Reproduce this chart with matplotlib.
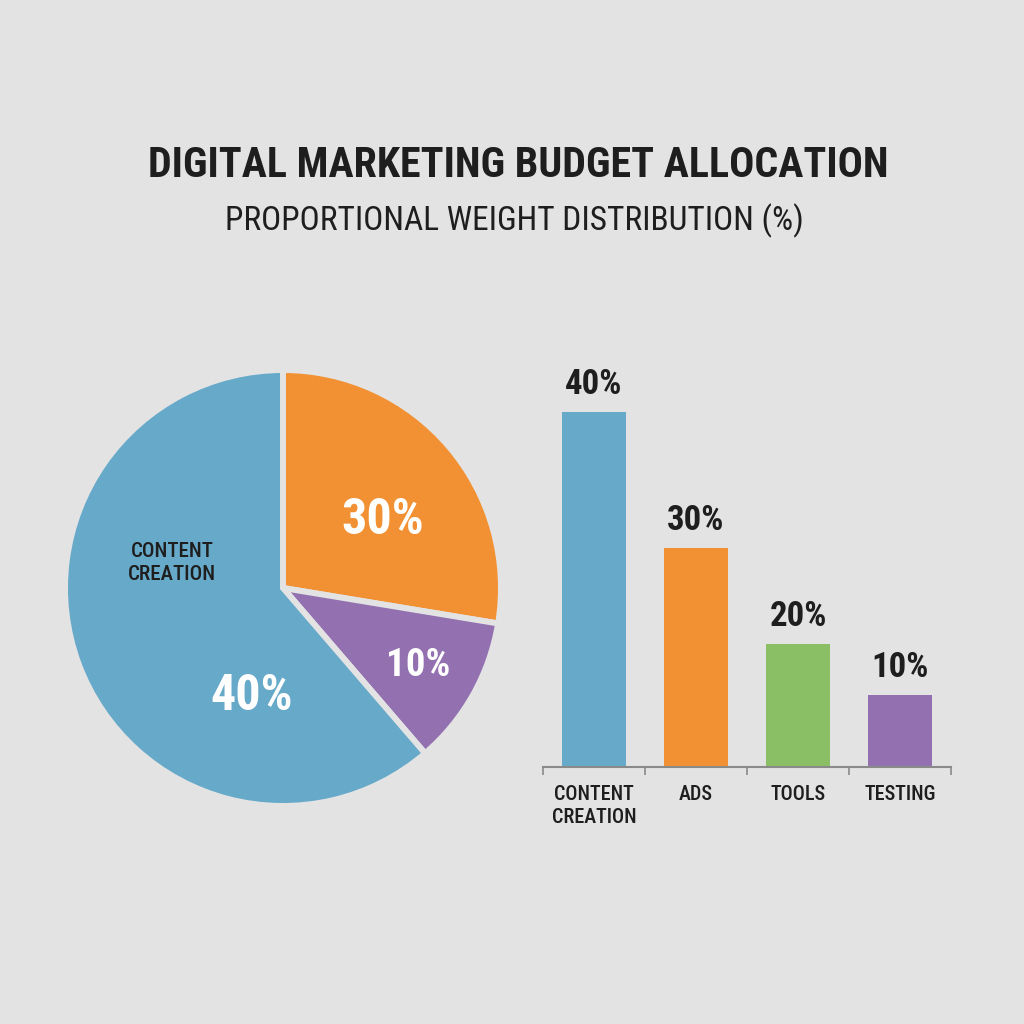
import matplotlib.pyplot as plt

# data
categories = ["CONTENT\nCREATION", "ADS", "TOOLS", "TESTING"]
bar_labels = ["40%", "30%", "20%", "10%"]
bar_heights = [40, 24.7, 13.9, 8.1]   # drawn heights as they appear

pie_shares = [27.6, 11.1, 61.3]       # orange, purple, blue (as drawn)
pie_labels = ["30%", "10%", "40%"]

blue = "#67a9c9"
orange = "#f29133"
green = "#8bbf66"
purple = "#9371b1"
bar_colors = [blue, orange, green, purple]
pie_colors = [orange, purple, blue]
bg = "#e3e3e3"
dark = "#1e1e1e"

plt.rcParams["font.family"] = ["DejaVu Sans Condensed", "Roboto Condensed",
                               "Liberation Sans Narrow", "Roboto", "DejaVu Sans"]

fig = plt.figure(figsize=(10.24, 10.24), dpi=100)
fig.patch.set_facecolor(bg)

def fit(t, width_px):
    # shrink a text until it spans the width seen in the reference
    r = fig.canvas.get_renderer()
    w = t.get_window_extent(r).width
    t.set_fontsize(t.get_fontsize() * width_px / w)

title = fig.text(0.506, 0.838, "DIGITAL MARKETING BUDGET ALLOCATION", ha="center", va="center",
                 fontsize=37, fontweight="bold", color=dark)
sub = fig.text(0.502, 0.784, "PROPORTIONAL WEIGHT DISTRIBUTION (%)", ha="center", va="center",
               fontsize=27, color=dark)
fit(title, 740)
fit(sub, 580)

# pie
cx, cy, r = 283, 588, 215
ax1 = fig.add_axes([(cx - r) / 1024, (1024 - cy - r) / 1024, 2 * r / 1024, 2 * r / 1024])
ax1.pie(pie_shares, colors=pie_colors, startangle=90, counterclock=False,
        radius=1 + 3 / 215, wedgeprops=dict(edgecolor=bg, linewidth=4.3))
ax1.set_xlim(-1, 1)
ax1.set_ylim(-1, 1)
ax1.set_aspect("equal")
ax1.axis("off")

def px(x, y):
    return (x - cx) / r, (cy - y) / r

ax1.text(*px(383, 520), pie_labels[0], ha="center", va="center", color="white",
         fontsize=36, fontweight="bold")
ax1.text(*px(418, 665), pie_labels[1], ha="center", va="center", color="white",
         fontsize=28, fontweight="bold")
ax1.text(*px(252, 697), pie_labels[2], ha="center", va="center", color="white",
         fontsize=36, fontweight="bold")
ax1.text(*px(172, 563), "CONTENT\nCREATION", ha="center", va="center", color=dark,
         fontsize=15, fontweight="medium", linespacing=1.3)

# bars
base = 767
ax2 = fig.add_axes([543 / 1024, (1024 - base) / 1024, 408 / 1024, (base - 360) / 1024])
ax2.set_facecolor("none")
x = range(len(categories))
bars = ax2.bar(x, bar_heights, width=0.63, color=bar_colors)
ax2.set_xlim(-0.5, 3.5)
ax2.set_ylim(0, 40 * (base - 360) / (base - 412))
for b, lab in zip(bars, bar_labels):
    ax2.annotate(lab, (b.get_x() + b.get_width() / 2, b.get_height()),
                 xytext=(0, 8), textcoords="offset points", ha="center", va="bottom",
                 fontsize=25, fontweight="bold", color=dark)

for s in ["top", "right", "left"]:
    ax2.spines[s].set_visible(False)
ax2.spines["bottom"].set_color("#8a8a8a")
ax2.spines["bottom"].set_linewidth(1.5)
ax2.set_yticks([])
ax2.set_xticks(list(x))
ax2.set_xticklabels(categories, fontsize=14.5, fontweight="medium", color=dark,
                    linespacing=1.25, va="top")
ax2.tick_params(axis="x", which="major", length=0, pad=13)
ax2.set_xticks([-0.5, 0.5, 1.5, 2.5, 3.5], minor=True)
ax2.tick_params(axis="x", which="minor", length=6, width=1.2, color="#8a8a8a", direction="out")

fig.savefig("out.png", dpi=100, facecolor=bg)
